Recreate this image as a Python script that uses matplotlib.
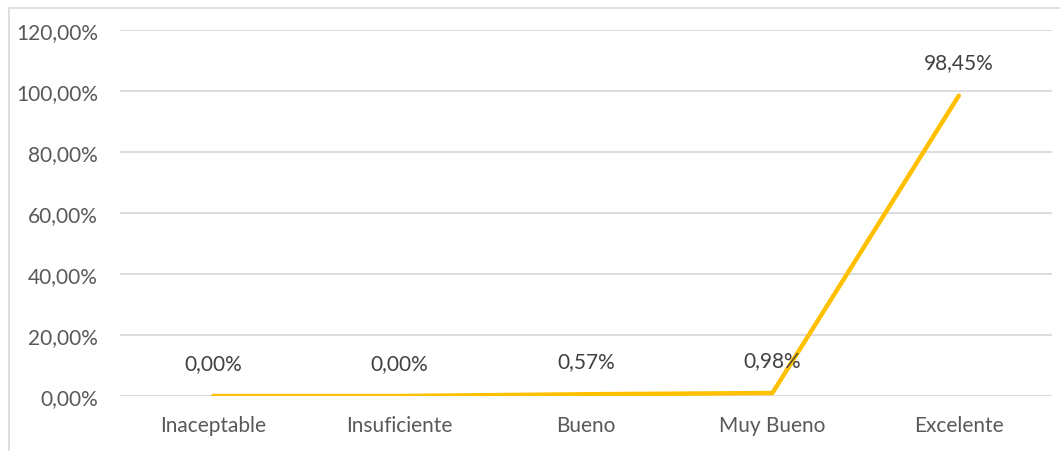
import matplotlib.pyplot as plt
from matplotlib.patches import Rectangle

categories = ['Inaceptable', 'Insuficiente', 'Bueno', 'Muy Bueno', 'Excelente']
values = [0.00, 0.00, 0.57, 0.98, 98.45]
yticks = [0, 20, 40, 60, 80, 100, 120]

plt.rcParams['font.family'] = ['Lato', 'DejaVu Sans']
text_color = '#595959'

fig = plt.figure(figsize=(10.6, 4.52), dpi=100)
ax = fig.add_axes([120 / 1060, (452 - 397) / 452, 932 / 1060, 366 / 452])

x = list(range(len(categories)))
ax.plot(x, values, color='#FFC000', linewidth=3.2, solid_capstyle='round', zorder=3)

# data labels
for xi, v in zip(x, values):
    ax.annotate(f'{v:.2f}%'.replace('.', ','), (xi, v), xytext=(0, 24),
                textcoords='offset points', ha='center', va='center',
                fontsize=15, color='#404040')

ax.set_xlim(-0.5, len(categories) - 0.5)
ax.set_ylim(0, 120)
ax.set_yticks(yticks)
ax.set_yticklabels([f'{t:.2f}%'.replace('.', ',') for t in yticks])
ax.set_xticks(x)
ax.set_xticklabels(categories)
ax.tick_params(axis='both', length=0, labelsize=15, labelcolor=text_color)
ax.tick_params(axis='y', pad=16)
ax.tick_params(axis='x', pad=14)
ax.grid(axis='y', color='#D9D9D9', linewidth=1.3)
ax.set_axisbelow(True)
for s in ax.spines.values():
    s.set_visible(False)

# chart area border
fig.patches.append(Rectangle((9 / 1060, -0.1), 1.2, (452 - 9) / 452 + 0.1,
                             transform=fig.transFigure, fill=False,
                             edgecolor='#D9D9D9', linewidth=1.2))

fig.savefig('out.png', dpi=100)
